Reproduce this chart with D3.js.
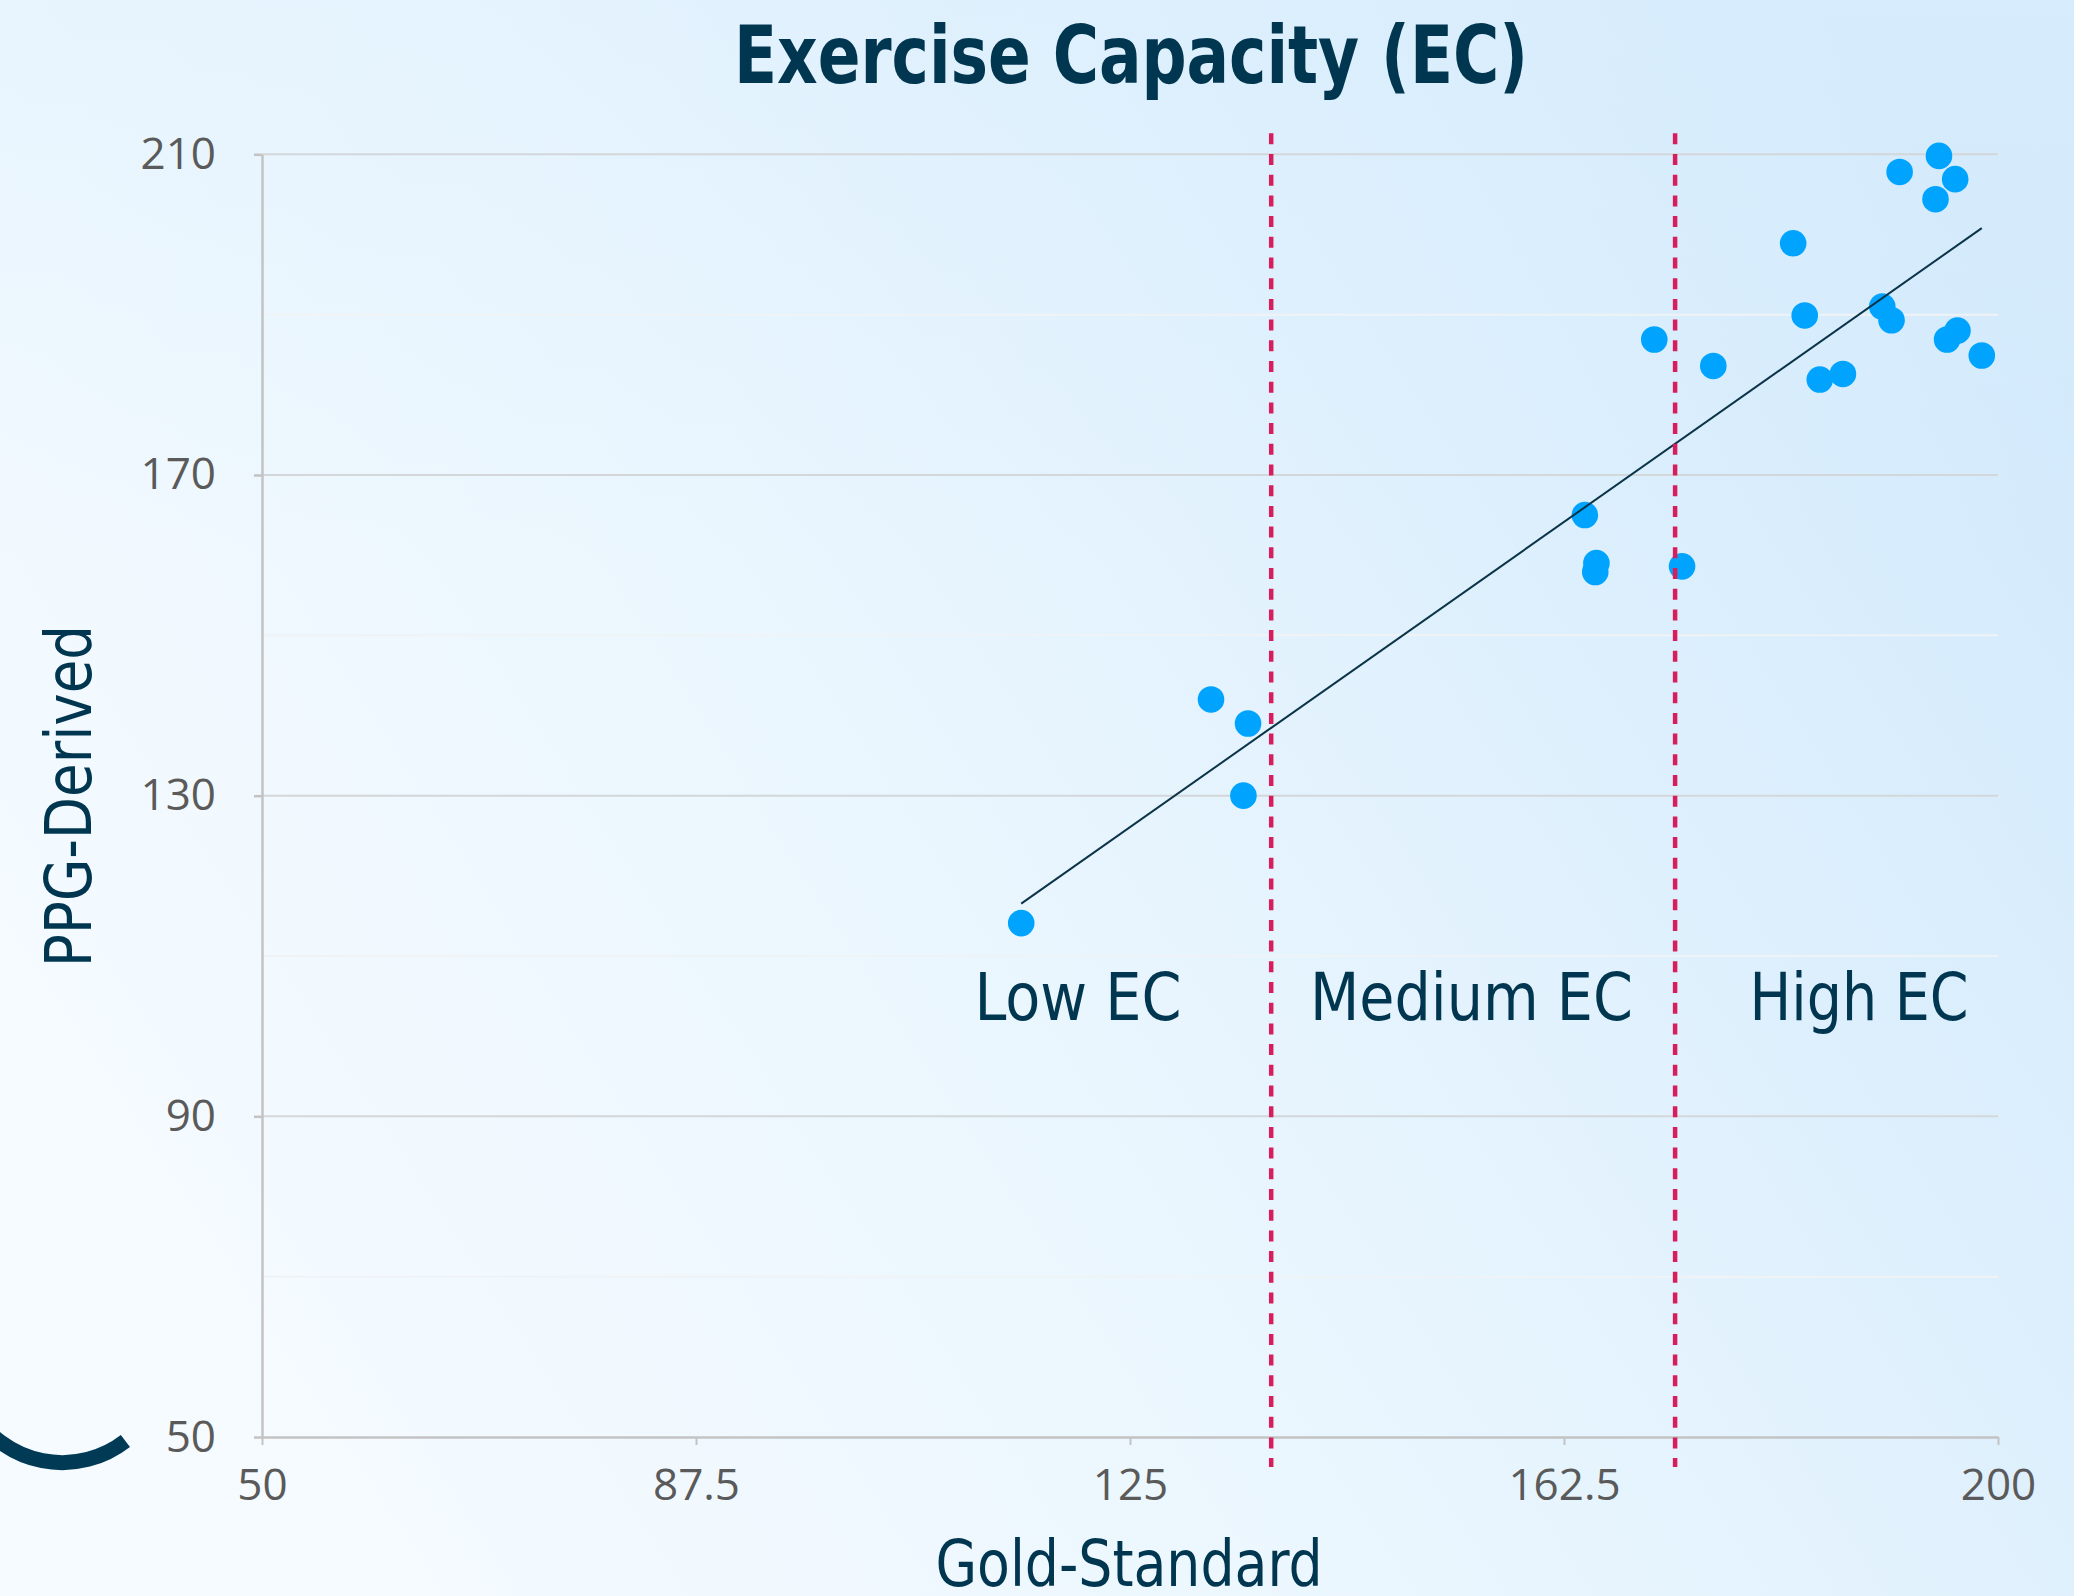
<!DOCTYPE html>
<html>
<head>
<meta charset="utf-8">
<script src="https://cdn.jsdelivr.net/npm/d3@7"></script>
<style>
  html, body { margin: 0; padding: 0; overflow: hidden; background: #eef7fe; }
  svg { display: block; }
</style>
</head>
<body>
<svg id="chart" width="2074" height="1596"></svg>
<script>
// Exercise capacity: gold-standard measurement vs. PPG-derived estimate
const goldStandard = [
  115.6, 132.0, 135.2, 134.8, 164.3, 165.3, 165.2, 172.7,
  191.5, 194.9, 196.3, 194.6, 182.3, 170.3, 175.4, 183.3,
  190.0, 190.8, 195.6, 196.5, 198.6, 184.6, 186.6
];
const ppgDerived = [
  114.1, 142.0, 139.0, 130.0, 165.0, 159.0, 157.9, 158.6,
  207.8, 209.8, 206.9, 204.4, 198.9, 186.9, 183.6, 189.9,
  191.0, 189.3, 186.9, 188.0, 184.9, 181.9, 182.6
];

const xTicks = [50, 87.5, 125, 162.5, 200];
const yTicks = [50, 90, 130, 170, 210];
const yMinorTicks = [70, 110, 150, 190];

// EC category thresholds on the gold-standard axis
const zoneBounds = [137.2, 172.1];
const zoneNames = ["Low EC", "Medium EC", "High EC"];
const zoneLabelX = [120.5, 154.5, 188];
const zoneLabelY = 102;

const titleText = "Exercise Capacity (EC)";
const xTitleText = "Gold-Standard";
const yTitleText = "PPG-Derived";

const W = 2074, H = 1596;
const NAVY = "#00364f";
const NARROW = "'DejaVu Sans Condensed', 'DejaVu Sans', sans-serif";
const TICKFONT = "'Open Sans', 'Noto Sans', sans-serif";

const svg = d3.select("#chart");
const defs = svg.append("defs");

// background wash: pale on the left, light blue towards the right
const bg = defs.append("linearGradient").attr("id", "bgGrad")
  .attr("x1", 0).attr("y1", 0.75).attr("x2", 1).attr("y2", 0.25);
bg.append("stop").attr("offset", 0).attr("stop-color", "#f6fbff");
bg.append("stop").attr("offset", 0.45).attr("stop-color", "#eaf6fe");
bg.append("stop").attr("offset", 1).attr("stop-color", "#d3eafc");
const topWash = defs.append("linearGradient").attr("id", "topWash")
  .attr("x1", 0).attr("y1", 0).attr("x2", 0).attr("y2", 1);
topWash.append("stop").attr("offset", 0).attr("stop-color", "#dceffd").attr("stop-opacity", 0.35);
topWash.append("stop").attr("offset", 0.35).attr("stop-color", "#dceffd").attr("stop-opacity", 0);

svg.append("rect").attr("width", W).attr("height", H).attr("fill", "url(#bgGrad)");
svg.append("rect").attr("width", W).attr("height", H).attr("fill", "url(#topWash)");

const x = d3.scaleLinear().domain([50, 200]).range([262, 1998]);
const y = d3.scaleLinear().domain([50, 210]).range([1437, 154.3]);

// gridlines
const grid = svg.append("g");
grid.selectAll("line.minor").data(yMinorTicks).join("line")
  .attr("class", "minor")
  .attr("x1", x(50)).attr("x2", x(200))
  .attr("y1", d => y(d)).attr("y2", d => y(d))
  .attr("stroke", "#f0f3f5").attr("stroke-width", 2);
grid.selectAll("line.major").data(yTicks.filter(d => d !== 50)).join("line")
  .attr("class", "major")
  .attr("x1", x(50)).attr("x2", x(200))
  .attr("y1", d => y(d)).attr("y2", d => y(d))
  .attr("stroke", "#d4d7d9").attr("stroke-width", 2);

// axes
const xAxis = svg.append("g").attr("transform", `translate(0,${y(50)})`)
  .call(d3.axisBottom(x).tickValues(xTicks).tickSize(8).tickSizeOuter(0)
    .tickPadding(24).tickFormat(d => String(d)));
const yAxis = svg.append("g").attr("transform", `translate(${x(50)},0)`)
  .call(d3.axisLeft(y).tickValues(yTicks).tickSize(8).tickSizeOuter(0)
    .tickPadding(38).tickFormat(d => String(d)));

[xAxis, yAxis].forEach(g => {
  g.select(".domain").attr("stroke", "#c3c3c3").attr("stroke-width", 2.5);
  g.selectAll(".tick line").attr("stroke", "#c3c3c3").attr("stroke-width", 2.5);
  g.selectAll(".tick text")
    .attr("fill", "#5a5a5a")
    .style("font-family", TICKFONT)
    .style("font-size", "44px");
});
yAxis.selectAll(".tick text").attr("dy", "14px");
xAxis.selectAll(".tick line").attr("stroke-width", 2);

// data points
const pts = goldStandard.map((g, i) => ({ g, p: ppgDerived[i] }));
svg.append("g").selectAll("circle").data(pts).join("circle")
  .attr("cx", d => x(d.g)).attr("cy", d => y(d.p))
  .attr("r", 13.3)
  .attr("fill", "#00a4ff");

// least-squares trend line across the observed range
const mx = d3.mean(goldStandard), my = d3.mean(ppgDerived);
const sxy = d3.sum(pts, d => (d.g - mx) * (d.p - my));
const sxx = d3.sum(pts, d => (d.g - mx) ** 2);
const slope = sxy / sxx, icpt = my - slope * mx;
const [gMin, gMax] = d3.extent(goldStandard);
svg.append("line")
  .attr("x1", x(gMin)).attr("y1", y(icpt + slope * gMin))
  .attr("x2", x(gMax)).attr("y2", y(icpt + slope * gMax))
  .attr("stroke", "#0b3448").attr("stroke-width", 2);

// category boundaries
svg.append("g").selectAll("line").data(zoneBounds).join("line")
  .attr("x1", d => x(d)).attr("x2", d => x(d))
  .attr("y1", y(210) - 21).attr("y2", y(50) + 30)
  .attr("stroke", "#d81d5c").attr("stroke-width", 4.5)
  .attr("stroke-dasharray", "11 9.7");

// condensed text helper: fixed advance width, glyphs squeezed to fit
function narrowText(sel, size, width, weight) {
  return sel.attr("fill", NAVY)
    .attr("text-anchor", "middle")
    .attr("textLength", width)
    .attr("lengthAdjust", "spacingAndGlyphs")
    .style("font-family", NARROW)
    .style("font-weight", weight || "normal")
    .style("font-size", size + "px");
}

// category labels
const zoneWidths = [207, 323, 219];
svg.append("g").selectAll("text").data(zoneNames).join("text")
  .attr("x", (d, i) => x(zoneLabelX[i]))
  .attr("y", y(zoneLabelY))
  .text(d => d)
  .each(function (d, i) { narrowText(d3.select(this), 66, zoneWidths[i]); });

// titles
narrowText(svg.append("text").attr("x", 1131).attr("y", 83).text(titleText), 80, 794, "bold");
narrowText(svg.append("text").attr("x", 1129).attr("y", 1586).text(xTitleText), 64, 387);
narrowText(svg.append("text").attr("transform", "translate(91,796) rotate(-90)").text(yTitleText), 64, 342);

// decorative swoosh in the lower-left corner
svg.append("path")
  .attr("d", "M125.4,1441 A103,103 0 0 1 -27,1411")
  .attr("fill", "none")
  .attr("stroke", "#003a55")
  .attr("stroke-width", 15);
</script>
</body>
</html>
